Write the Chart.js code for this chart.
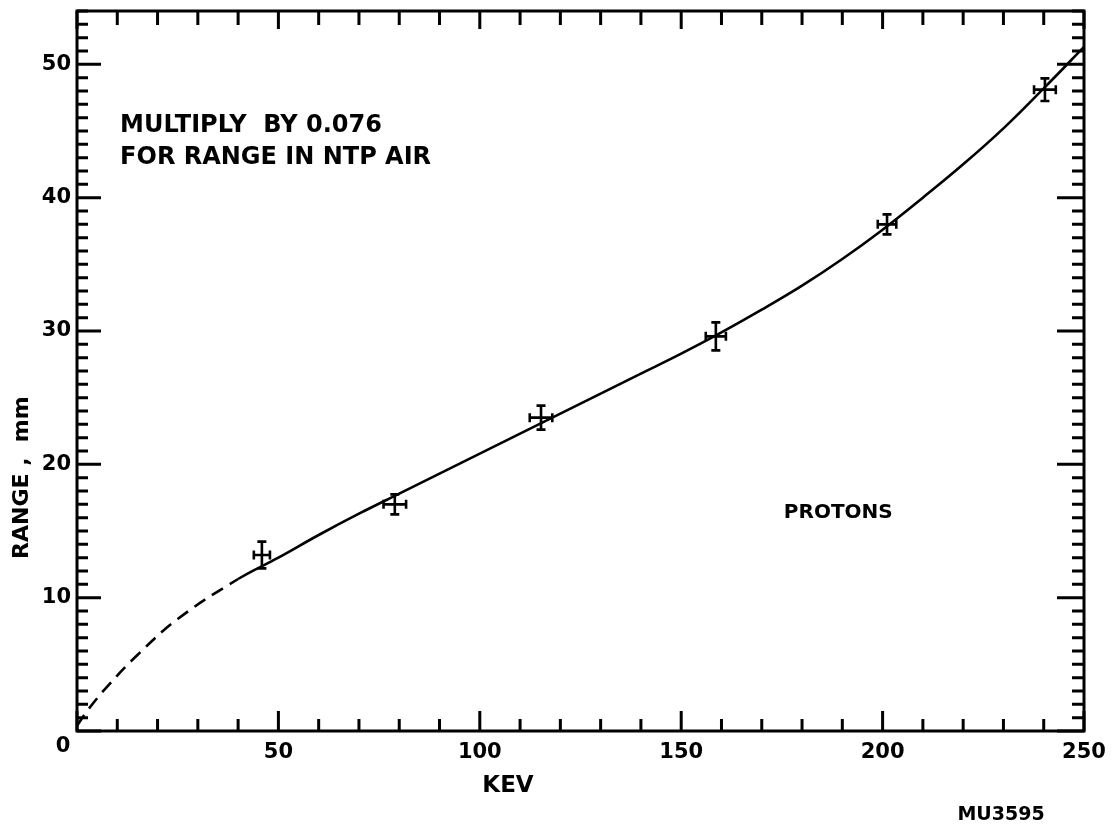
<!DOCTYPE html>
<html>
<head>
<meta charset="utf-8">
<script src="https://cdn.jsdelivr.net/npm/chart.js@4/dist/chart.umd.min.js"></script>
<style>
  body { margin: 0; background: #fff; }
  #wrap { width: 1119px; height: 830px; }
</style>
</head>
<body>
<div id="wrap"><canvas id="myChart"></canvas></div>
<script>
// measured points (keV, mm) with error half-widths
var pointKev = [45.9, 78.9, 115.2, 158.6, 201.1, 240.3];
var pointRange = [13.2, 17.0, 23.5, 29.6, 38.0, 48.1];
var kevErr = [2.0, 2.8, 2.8, 2.5, 2.3, 2.7];
var rangeErr = [1.0, 0.75, 0.9, 1.05, 0.75, 0.85];

// smooth curve; below dashedUpTo keV it is drawn dashed
var curveKev = [0, 3, 8, 15, 25, 40, 50, 60, 70, 80, 90, 100, 110, 120, 130, 140, 150, 160, 170, 180, 190, 200, 210, 220, 230, 240, 250];
var curveRange = [0.4, 1.7, 3.5, 5.7, 8.4, 11.4, 13.0, 14.7, 16.3, 17.8, 19.3, 20.8, 22.3, 23.8, 25.3, 26.8, 28.3, 29.9, 31.6, 33.4, 35.4, 37.6, 40.0, 42.5, 45.2, 48.2, 51.3];
var dashedUpTo = 40;

var xTicks = [0, 50, 100, 150, 200, 250];
var yTicks = [0, 10, 20, 30, 40, 50];

const FONT = "'DejaVu Sans', sans-serif";

function toXY(xs, ys) {
    return xs.map((x, i) => { return {x: x, y: ys[i]} });
}

// frame, inward ticks, error crosses and the lettering
const paperPlugin = {
    id: 'paper',
    afterDatasetsDraw(chart) {
        const ctx = chart.ctx;
        const xs = chart.scales.x, ys = chart.scales.y;
        const a = chart.chartArea;
        ctx.save();
        ctx.strokeStyle = '#000';
        ctx.lineCap = 'butt';

        // error crosses
        ctx.lineWidth = 2.6;
        for (let i = 0; i < pointKev.length; i++) {
            const cx = xs.getPixelForValue(pointKev[i]);
            const cy = ys.getPixelForValue(pointRange[i]);
            const x0 = xs.getPixelForValue(pointKev[i] - kevErr[i]);
            const x1 = xs.getPixelForValue(pointKev[i] + kevErr[i]);
            const y0 = ys.getPixelForValue(pointRange[i] - rangeErr[i]);
            const y1 = ys.getPixelForValue(pointRange[i] + rangeErr[i]);
            ctx.beginPath();
            ctx.moveTo(x0, cy); ctx.lineTo(x1, cy);
            ctx.moveTo(x0, cy - 4.5); ctx.lineTo(x0, cy + 4.5);
            ctx.moveTo(x1, cy - 4.5); ctx.lineTo(x1, cy + 4.5);
            ctx.moveTo(cx, y0); ctx.lineTo(cx, y1);
            ctx.moveTo(cx - 4.5, y0); ctx.lineTo(cx + 4.5, y0);
            ctx.moveTo(cx - 4.5, y1); ctx.lineTo(cx + 4.5, y1);
            ctx.stroke();
        }

        // ticks
        ctx.lineWidth = 3;
        ctx.beginPath();
        for (let v = 0; v <= 250; v += 10) {
            const px = xs.getPixelForValue(v);
            const len = v % 50 === 0 ? 20 : 12;
            ctx.moveTo(px, a.bottom); ctx.lineTo(px, a.bottom - len);
            ctx.moveTo(px, a.top); ctx.lineTo(px, a.top + (v % 50 === 0 ? 18 : 14));
        }
        for (let v = 0; v <= 54; v += 1) {
            const py = ys.getPixelForValue(v);
            const len = v % 10 === 0 ? 24 : 11;
            ctx.moveTo(a.left, py); ctx.lineTo(a.left + len, py);
            ctx.moveTo(a.right, py); ctx.lineTo(a.right - (v % 10 === 0 ? 27 : 12), py);
        }
        ctx.stroke();

        // frame
        ctx.lineWidth = 3;
        ctx.strokeRect(a.left, a.top, a.right - a.left, a.bottom - a.top);

        // lettering
        ctx.fillStyle = '#000';
        ctx.textBaseline = 'middle';
        ctx.font = 'bold 21px ' + FONT;
        ctx.textAlign = 'center';
        ctx.fillText('0', xs.getPixelForValue(0) - 14, ys.getPixelForValue(0) + 16);

        ctx.font = 'bold 24px ' + FONT;
        ctx.textAlign = 'left';
        ctx.fillText('MULTIPLY  BY 0.076', xs.getPixelForValue(10.7), ys.getPixelForValue(45.4));
        ctx.fillText('FOR RANGE IN NTP AIR', xs.getPixelForValue(10.7), ys.getPixelForValue(43.0));

        ctx.font = 'bold 20px ' + FONT;
        ctx.textAlign = 'center';
        ctx.fillText('PROTONS', xs.getPixelForValue(189), ys.getPixelForValue(16.4));
        ctx.font = 'bold 23px ' + FONT;
        ctx.fillText('KEV', xs.getPixelForValue(107), ys.getPixelForValue(-4.1));
        ctx.font = 'bold 19px ' + FONT;
        ctx.fillText('MU3595', xs.getPixelForValue(229.4), ys.getPixelForValue(-6.3));

        ctx.translate(22, ys.getPixelForValue(19));
        ctx.rotate(-Math.PI / 2);
        ctx.font = 'bold 22px ' + FONT;
        ctx.fillText('RANGE ,  mm', 0, 0);
        ctx.restore();
    }
};

const config = {
    type: 'line',
    data: {
        datasets: [
            {
                label: 'range curve',
                data: toXY(curveKev, curveRange),
                borderColor: '#000',
                borderWidth: 2.6,
                pointRadius: 0,
                tension: 0.4,
                segment: {
                    borderDash: (c) => c.p1.parsed.x <= dashedUpTo ? [13, 8] : undefined
                }
            }
        ]
    },
    options: {
        responsive: true,
        maintainAspectRatio: false,
        animation: false,
        layout: { padding: { top: 11, right: 35, left: 0, bottom: 0 } },
        plugins: { legend: { display: false }, tooltip: { enabled: false } },
        scales: {
            x: {
                type: 'linear',
                min: 0, max: 250,
                afterFit: (s) => { s.height = 99; s.paddingLeft = 0; s.paddingRight = 0; },
                afterBuildTicks: (s) => { s.ticks = xTicks.map(v => ({value: v})); },
                grid: { display: false, drawTicks: false },
                border: { display: false },
                ticks: {
                    padding: 9,
                    color: '#000',
                    font: { family: FONT, size: 21, weight: 'bold' },
                    callback: (v) => v === 0 ? '' : String(v)
                }
            },
            y: {
                type: 'linear',
                min: 0, max: 54,
                afterFit: (s) => { s.width = 77; s.paddingTop = 0; s.paddingBottom = 0; },
                afterBuildTicks: (s) => { s.ticks = yTicks.map(v => ({value: v})); },
                grid: { display: false, drawTicks: false },
                border: { display: false },
                ticks: {
                    padding: 6,
                    color: '#000',
                    font: { family: FONT, size: 21, weight: 'bold' },
                    callback: (v) => v === 0 ? '' : String(v)
                }
            }
        }
    },
    plugins: [paperPlugin]
};

var ctx = document.getElementById('myChart').getContext('2d');
var chart = new Chart(ctx, config);
</script>
</body>
</html>
